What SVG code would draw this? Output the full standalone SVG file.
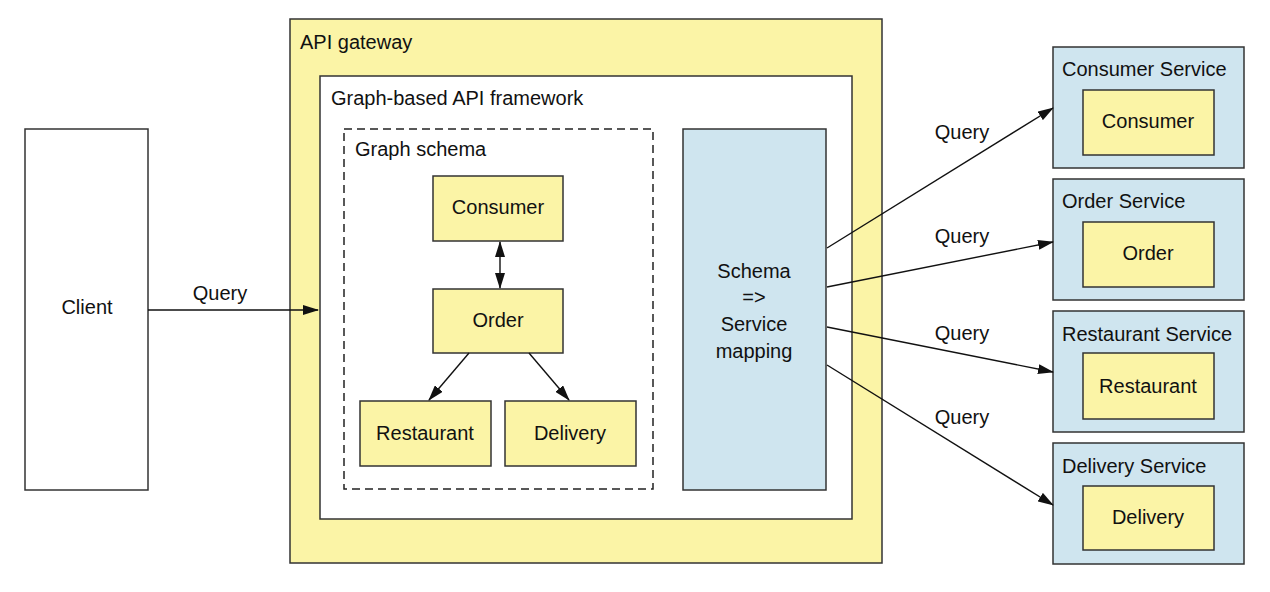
<svg xmlns="http://www.w3.org/2000/svg" width="1270" height="592" viewBox="0 0 1270 592">
<style>
text{font-family:"Liberation Sans",Arial,sans-serif;font-size:20px;fill:#111}
.c{text-anchor:middle}
.y{fill:#fbf4a6;stroke:#333;stroke-width:1.5}
.b{fill:#cfe5ef;stroke:#333;stroke-width:1.5}
.w{fill:#fff;stroke:#333;stroke-width:1.5}
.d{fill:none;stroke:#222;stroke-width:1.5;stroke-dasharray:8 5}
.l{fill:none;stroke:#111;stroke-width:1.4}
</style>
<defs>
<marker id="ah" markerUnits="userSpaceOnUse" markerWidth="16" markerHeight="10" refX="15" refY="5" orient="auto-start-reverse" viewBox="0 0 16 10">
<path d="M0,0 L16,5 L0,10 Z" fill="#111"/>
</marker>
</defs>
<rect width="1270" height="592" fill="#fff"/>
<g id="client"><rect class="w" x="25" y="129" width="123" height="361"/><text class="c" x="87" y="314">Client</text></g>
<g id="api-gateway"><rect class="y" x="290" y="19" width="592" height="544"/><text x="300" y="49">API gateway</text></g>
<g id="framework"><rect class="w" x="320" y="76" width="532" height="443"/><text x="331" y="105">Graph-based API framework</text></g>
<g id="graph-schema"><rect class="d" x="344" y="129" width="309" height="360"/><text x="355" y="156">Graph schema</text></g>
<g id="schema-consumer"><rect class="y" x="433" y="176" width="130" height="65"/><text class="c" x="498" y="214">Consumer</text></g>
<g id="schema-order"><rect class="y" x="433" y="289" width="130" height="64"/><text class="c" x="498" y="327">Order</text></g>
<g id="schema-restaurant"><rect class="y" x="360" y="401" width="131" height="65"/><text class="c" x="425" y="440">Restaurant</text></g>
<g id="schema-delivery"><rect class="y" x="505" y="401" width="131" height="65"/><text class="c" x="570" y="440">Delivery</text></g>
<g id="mapping"><rect class="b" x="683" y="129" width="143" height="361"/>
<text class="c" x="754" y="278">Schema</text><text class="c" x="754" y="304">=&gt;</text><text class="c" x="754" y="331">Service</text><text class="c" x="754" y="358">mapping</text></g>
<g id="consumer-service"><rect class="b" x="1053" y="47" width="191" height="121"/><text x="1062" y="76">Consumer Service</text><rect class="y" x="1083" y="90" width="131" height="65"/><text class="c" x="1148" y="128">Consumer</text></g>
<g id="order-service"><rect class="b" x="1053" y="179" width="191" height="121"/><text x="1062" y="208">Order Service</text><rect class="y" x="1083" y="222" width="131" height="65"/><text class="c" x="1148" y="260">Order</text></g>
<g id="restaurant-service"><rect class="b" x="1053" y="311" width="191" height="121"/><text x="1062" y="341">Restaurant Service</text><rect class="y" x="1083" y="353" width="131" height="66"/><text class="c" x="1148" y="393">Restaurant</text></g>
<g id="delivery-service"><rect class="b" x="1053" y="443" width="191" height="121"/><text x="1062" y="473">Delivery Service</text><rect class="y" x="1083" y="486" width="131" height="64"/><text class="c" x="1148" y="524">Delivery</text></g>
<g id="connectors">
<line class="l" x1="148" y1="310" x2="318" y2="310" marker-end="url(#ah)"/>
<text class="c" x="220" y="300">Query</text>
<line class="l" x1="500" y1="242" x2="500" y2="288" marker-start="url(#ah)" marker-end="url(#ah)"/>
<line class="l" x1="469" y1="353" x2="429" y2="400" marker-end="url(#ah)"/>
<line class="l" x1="529" y1="353" x2="569" y2="400" marker-end="url(#ah)"/>
<line class="l" x1="827" y1="248" x2="1053" y2="108" marker-end="url(#ah)"/>
<line class="l" x1="827" y1="287" x2="1053" y2="242" marker-end="url(#ah)"/>
<line class="l" x1="827" y1="327" x2="1053" y2="372" marker-end="url(#ah)"/>
<line class="l" x1="827" y1="365" x2="1053" y2="505" marker-end="url(#ah)"/>
<text class="c" x="962" y="139">Query</text>
<text class="c" x="962" y="243">Query</text>
<text class="c" x="962" y="340">Query</text>
<text class="c" x="962" y="424">Query</text>
</g>
</svg>
